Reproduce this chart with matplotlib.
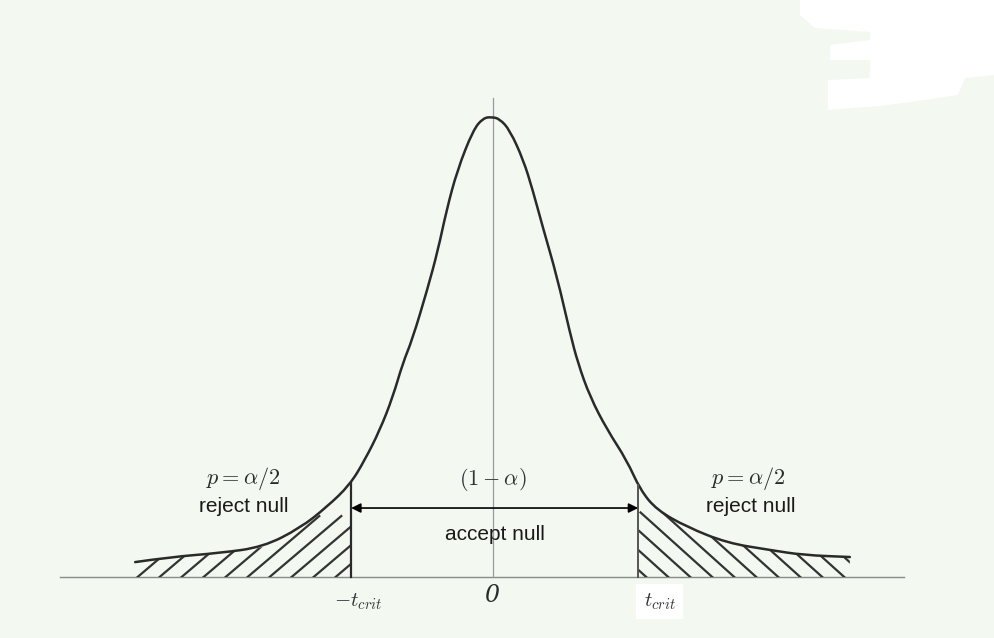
import numpy as np
import matplotlib
matplotlib.use("Agg")
import matplotlib.pyplot as plt
from matplotlib.patches import Polygon, PathPatch
from matplotlib.path import Path

plt.rcParams["mathtext.fontset"] = "cm"

# Sketched t-density: t values and heights of the drawn curve
t_vals = [-4.98, -4.49, -3.80, -3.20, -2.68, -2.31, -1.99, -1.78, -1.57, -1.39,
          -1.25, -1.12, -0.91, -0.76, -0.64, -0.49, -0.27, -0.13, -0.01, 0.10,
          0.24, 0.43, 0.56, 0.70, 0.90, 1.08, 1.19, 1.36, 1.60, 1.87,
          2.06, 2.29, 2.71, 3.27, 3.87, 4.33, 4.98]
density = [0.013, 0.0174, 0.0209, 0.0261, 0.0426, 0.0609, 0.080, 0.1017, 0.1278, 0.1565,
           0.1861, 0.2061, 0.2496, 0.2843, 0.3191, 0.3539, 0.3887, 0.3991, 0.400, 0.3983,
           0.3887, 0.3626, 0.3365, 0.3043, 0.2609, 0.2122, 0.1861, 0.1565, 0.1278, 0.1017,
           0.0757, 0.0583, 0.0435, 0.0296, 0.0235, 0.0191, 0.0174]

t_crit_lo = -1.97
t_crit_hi = 2.03

axis_x_range = [-6.03, 5.73]
axis_y_top = 0.4165
arrow_y = 0.060

label_p = r"$p = \alpha/2$"
label_reject = "reject null"
label_accept = "accept null"
label_conf = r"$(1 - \alpha)$"
label_zero = "0"
label_tlo = r"$-t_{crit}$"
label_thi = r"$t_{crit}$"

bg = "#f3f8f1"
ink = "#2a2a2a"

fig = plt.figure(figsize=(9.95, 6.38), dpi=100, facecolor=bg)
ax = fig.add_axes([0, 0, 1, 1])
ax.set_facecolor(bg)
ax.set_xlim(-6.864, 7.003)
ax.set_ylim(-0.053, 0.5017)
ax.axis("off")

t = np.array(t_vals)
d = np.array(density)


def smooth_path(xs, ys):
    """Quadratic B-spline style path through the sketch points."""
    pts = np.column_stack([xs, ys])
    verts = [pts[0]]
    codes = [Path.MOVETO]
    for i in range(1, len(pts) - 1):
        mid = (pts[i] + pts[i + 1]) / 2
        verts += [pts[i], mid]
        codes += [Path.CURVE3, Path.CURVE3]
    verts.append(pts[-1])
    codes.append(Path.LINETO)
    return Path(verts, codes)


# axes of the sketch
ax.plot(axis_x_range, [0, 0], color="#8a8a8a", lw=1.0, zorder=1)
ax.plot([0, 0], [0, axis_y_top], color="#9a9a9a", lw=0.9, zorder=1)

# density curve
ax.add_patch(PathPatch(smooth_path(t, d), facecolor="none", edgecolor=ink, lw=1.8,
                       joinstyle="round", capstyle="round", zorder=3))

# critical value markers
y_lo = np.interp(t_crit_lo, t, d)
y_hi = np.interp(t_crit_hi, t, d)
ax.plot([t_crit_lo, t_crit_lo], [0, y_lo], color=ink, lw=1.6, zorder=3)
ax.plot([t_crit_hi, t_crit_hi], [0, y_hi], color="#555555", lw=1.4, zorder=3)

# hatched rejection tails
fig.canvas.draw()
p0 = ax.transData.transform((0, 0))
p1 = ax.transData.transform((1, 1))
k = (p1[0] - p0[0]) / (p1[1] - p0[1])  # data-y per data-x for a 45 degree stroke
step = 22 / (p1[0] - p0[0])


def hatch_tail(mask_t, mask_d, rising, slope):
    poly = ax.fill_between(mask_t, 0, mask_d, facecolor="none", edgecolor="none")
    clip = poly.get_paths()[0]
    lo, hi = mask_t.min() - 1.5, mask_t.max() + 1.5
    for c in np.arange(lo, hi, step):
        xs = np.array([c, c + 1.0])
        ys = (xs - c) * k * slope if rising else (c + 1.0 - xs) * k * slope
        ln, = ax.plot(xs, ys, color="#333333", lw=1.6, zorder=2)
        ln.set_clip_path(clip, ax.transData)


sel = t <= t_crit_lo
lt = np.concatenate([t[sel], [t_crit_lo]])
ld = np.concatenate([d[sel], [y_lo]])
hatch_tail(lt, ld, True, 0.85)

sel = t >= t_crit_hi
rt = np.concatenate([[t_crit_hi], t[sel]])
rd = np.concatenate([[y_hi], d[sel]])
hatch_tail(rt, rd, False, 0.9)

# acceptance interval arrow
ax.annotate("", xy=(t_crit_lo, arrow_y), xytext=(t_crit_hi, arrow_y),
            arrowprops=dict(arrowstyle="<|-|>", color="black", lw=1.2,
                            mutation_scale=14, shrinkA=0, shrinkB=0), zorder=4)

sans = "Liberation Sans"
ax.text(-3.47, 0.086, label_p, fontsize=16, ha="center", va="center", color=ink)
ax.text(3.56, 0.086, label_p, fontsize=16, ha="center", va="center", color=ink)
ax.text(-3.47, 0.061, label_reject, fontsize=15, family=sans, ha="center", va="center", color="#1a1a1a")
ax.text(3.60, 0.061, label_reject, fontsize=15, family=sans, ha="center", va="center", color="#1a1a1a")
ax.text(0.01, 0.085, label_conf, fontsize=16, ha="center", va="center", color="#333333")
ax.text(0.035, 0.0374, label_accept, fontsize=15, family=sans, ha="center", va="center", color="#1a1a1a")
ax.text(-0.01, -0.0157, label_zero, fontsize=17, family="DejaVu Serif", style="italic",
        ha="center", va="center", color=ink)
ax.text(-1.875, -0.0215, label_tlo, fontsize=15, ha="center", va="center", color="#333333")
ax.text(2.33, -0.0215, label_thi, fontsize=15, ha="center", va="center", color="#333333",
        bbox=dict(boxstyle="square,pad=0.35", facecolor="white", edgecolor="none"))

# pale patch in the upper right corner of the scan
blob = [(800, 0), (995, 0), (995, 75), (965, 78), (958, 95), (925, 100), (880, 106),
        (828, 110), (828, 80), (870, 78), (870, 60), (830, 60), (830, 45), (870, 40),
        (870, 32), (815, 28), (800, 15)]
fig.patches.append(Polygon([(x / 995, 1 - y / 638) for x, y in blob], closed=True,
                           transform=fig.transFigure, facecolor="white",
                           edgecolor="none", zorder=0))

fig.savefig("out.png", dpi=100, facecolor=bg)
